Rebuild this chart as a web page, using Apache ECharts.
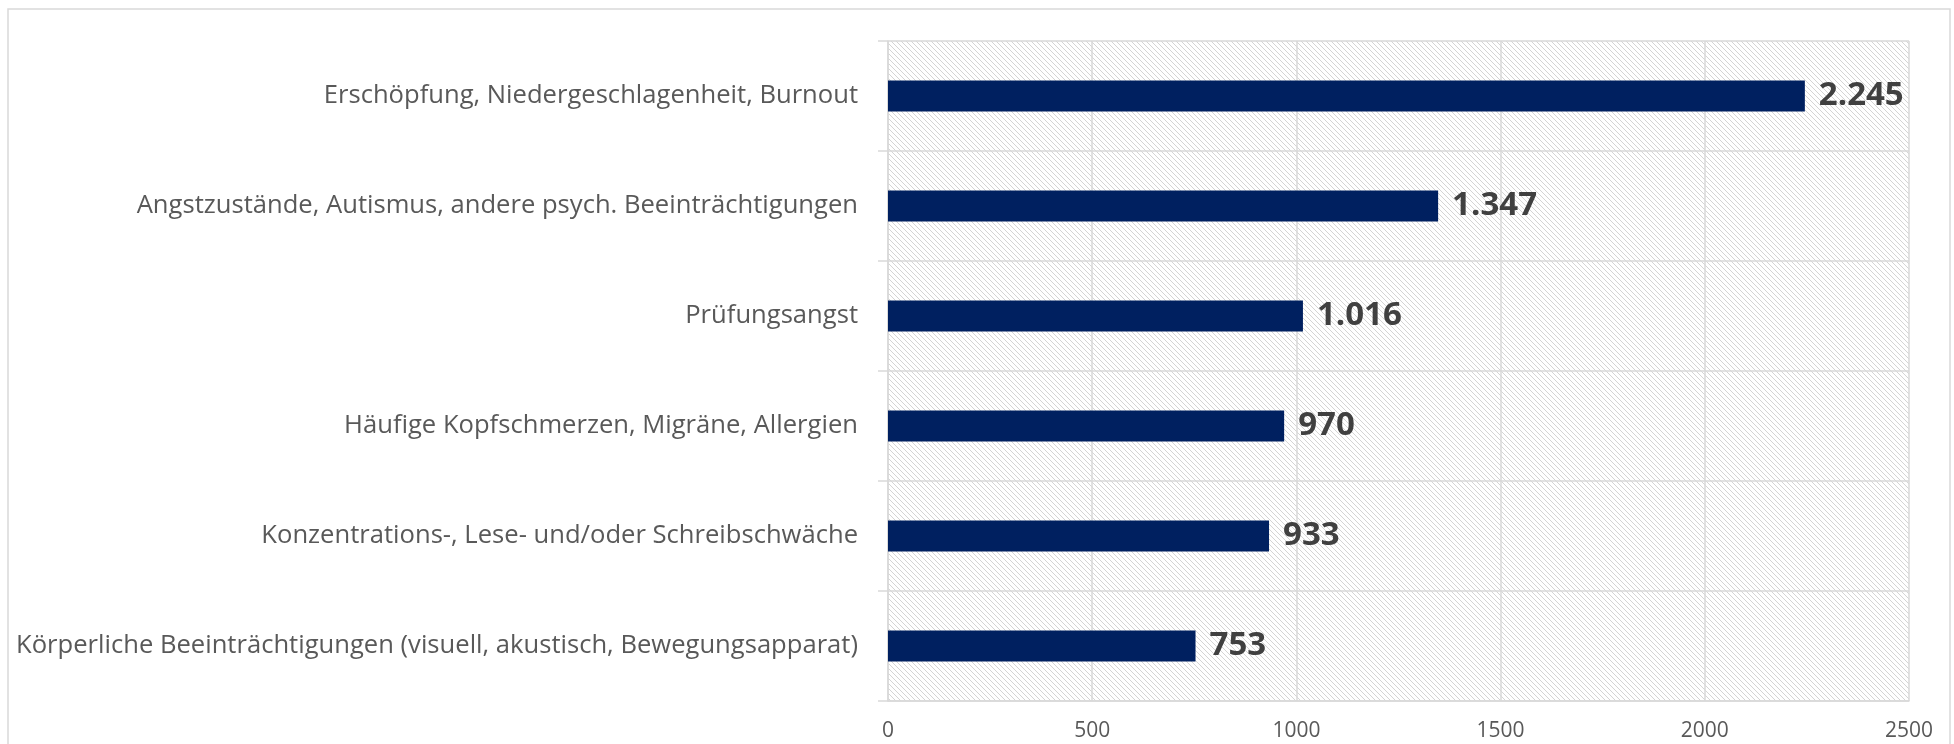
<!DOCTYPE html>
<html>
<head>
<meta charset="utf-8">
<script src="https://cdn.jsdelivr.net/npm/echarts@6/dist/echarts.min.js"></script>
<style>
  html, body { margin: 0; padding: 0; background: #fff; }
  #main { width: 1954px; height: 744px; }
</style>
</head>
<body>
<div id="main"></div>
<script>
const categories = [
  'Erschöpfung, Niedergeschlagenheit, Burnout',
  'Angstzustände, Autismus, andere psych. Beeinträchtigungen',
  'Prüfungsangst',
  'Häufige Kopfschmerzen, Migräne, Allergien',
  'Konzentrations-, Lese- und/oder Schreibschwäche',
  'Körperliche Beeinträchtigungen (visuell, akustisch, Bewegungsapparat)'
];
const values = [2245, 1347, 1016, 970, 933, 753];
const xTicks = [0, 500, 1000, 1500, 2000, 2500];

// diagonal hatch for the plot background
const P = 5;
const hatch = document.createElement('canvas');
hatch.width = P;
hatch.height = P;
const hctx = hatch.getContext('2d');
hctx.fillStyle = '#ffffff';
hctx.fillRect(0, 0, P, P);
hctx.fillStyle = '#d4d4d4';
for (let i = 0; i < P; i++) {
  hctx.fillRect(i, i, 1, 1);
}

const fmt = v => String(v).replace(/\B(?=(\d{3})+(?!\d))/g, '.');

const myChart = echarts.init(document.querySelector('#main'));
const option = {
  animation: false,
  graphic: [{
    type: 'rect',
    shape: { x: 8, y: 9, width: 1942, height: 760 },
    style: { fill: 'none', stroke: '#d9d9d9', lineWidth: 1.5 },
    silent: true
  }],
  grid: {
    left: 888, top: 41, right: 45, bottom: 43,
    show: true,
    borderWidth: 0,
    backgroundColor: { image: hatch, repeat: 'repeat' }
  },
  xAxis: {
    type: 'value',
    min: xTicks[0],
    max: xTicks[xTicks.length - 1],
    interval: 500,
    axisLine: { show: true, lineStyle: { color: '#d9d9d9', width: 1.5 } },
    axisTick: { show: false },
    splitLine: { show: true, lineStyle: { color: '#d9d9d9', width: 1.5 } },
    axisLabel: { color: '#595959', fontSize: 21, fontFamily: 'Open Sans', margin: 20, formatter: v => String(v) }
  },
  yAxis: {
    type: 'category',
    inverse: true,
    data: categories,
    axisLine: { show: true, lineStyle: { color: '#d9d9d9', width: 1.5 } },
    axisTick: { show: true, length: 10, lineStyle: { color: '#d9d9d9', width: 1.5 } },
    splitLine: { show: true, lineStyle: { color: '#d9d9d9', width: 1.5 } },
    axisLabel: { color: '#595959', fontSize: 25.6, fontFamily: 'Open Sans', margin: 30 }
  },
  series: [{
    type: 'bar',
    data: values,
    barWidth: 31,
    itemStyle: { color: '#002060' },
    label: {
      show: true,
      position: 'right',
      distance: 14,
      color: '#404040',
      fontSize: 33,
      fontWeight: 'bold',
      fontFamily: 'Open Sans',
      formatter: p => fmt(p.value)
    }
  }]
};
myChart.setOption(option);
</script>
</body>
</html>
